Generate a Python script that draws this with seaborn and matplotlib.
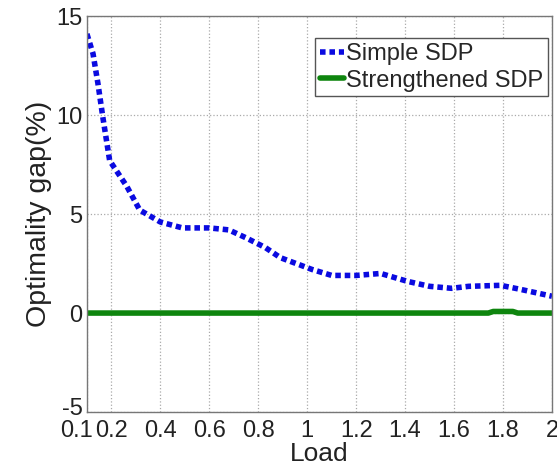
import numpy as np
import pandas as pd
import matplotlib
matplotlib.use('Agg')
import matplotlib.pyplot as plt
import matplotlib.transforms as mtransforms
import seaborn as sns

# values
load_simple = [0.10, 0.125, 0.145, 0.165, 0.193, 0.263, 0.316, 0.40, 0.49, 0.60, 0.68, 0.75, 0.83,
               0.89, 1.02, 1.10, 1.20, 1.30, 1.41, 1.50, 1.59, 1.66, 1.79, 1.87, 2.00]
gap_simple = [14.1, 13.1, 11.6, 9.9, 7.7, 6.4, 5.2, 4.6, 4.3, 4.3, 4.2, 3.8, 3.3,
              2.8, 2.2, 1.9, 1.9, 2.0, 1.6, 1.35, 1.25, 1.35, 1.4, 1.2, 0.85]
load_strong = [0.10, 0.50, 1.00, 1.50, 1.74, 1.76, 1.84, 1.86, 2.00]
gap_strong = [0.0, 0.0, 0.0, 0.0, 0.0, 0.08, 0.08, 0.0, 0.0]

xticks = [0.1, 0.2, 0.4, 0.6, 0.8, 1, 1.2, 1.4, 1.6, 1.8, 2]
xtick_labels = ['0.1', '0.2', '0.4', '0.6', '0.8', '1', '1.2', '1.4', '1.6', '1.8', '2']
yticks = [-5, 0, 5, 10, 15]

sns.set_style('white')
plt.rcParams['font.family'] = ['Liberation Sans', 'DejaVu Sans']
plt.rcParams['axes.unicode_minus'] = False

df_simple = pd.DataFrame({'Load': load_simple, 'gap': gap_simple})
df_strong = pd.DataFrame({'Load': load_strong, 'gap': gap_strong})

fig = plt.figure(figsize=(5.57, 4.72), dpi=100)
ax = fig.add_axes([0.156, 0.127, 0.835, 0.839])

sns.lineplot(data=df_simple, x='Load', y='gap', ax=ax, color='#0a0ae0', linewidth=4,
             label='Simple SDP', dashes=False)
ax.lines[-1].set_dashes([1.0, 0.7])
ax.lines[-1].set_dash_capstyle('butt')
sns.lineplot(data=df_strong, x='Load', y='gap', ax=ax, color='#0e850e', linewidth=4,
             label='Strengthened SDP')

ax.set_xlim(0.1, 2)
ax.set_ylim(-5, 15)
ax.set_xticks(xticks)
ax.set_xticklabels(xtick_labels)
ax.set_yticks(yticks)
ax.tick_params(direction='in', length=4, labelsize=17, colors='#222222')
ax.tick_params(axis='x', pad=6)
ax.tick_params(axis='y', pad=3)
ax.grid(True, linestyle=':', color='#aaaaaa', linewidth=0.9)
for s in ax.spines.values():
    s.set_color('#777777')
    s.set_linewidth(1.0)

# first x label sits a bit left, "-5" a bit up (like the reference)
shift = mtransforms.ScaledTranslation(-10 / 100, 0, fig.dpi_scale_trans)
first = ax.get_xticklabels()[0]
first.set_transform(first.get_transform() + shift)
up = mtransforms.ScaledTranslation(0, 6 / 100, fig.dpi_scale_trans)
low = ax.get_yticklabels()[0]
low.set_transform(low.get_transform() + up)

ax.set_xlabel('Load', fontsize=19, color='#222222', labelpad=0)
ax.set_ylabel('Optimality gap(%)', fontsize=20.5, color='#222222', labelpad=3)

leg = ax.legend(loc='upper right', fontsize=17, handlelength=1.0, handletextpad=0.1,
                borderpad=0.2, labelspacing=0.2, fancybox=False, framealpha=1,
                edgecolor='#555555', borderaxespad=0, bbox_to_anchor=(0.991, 0.944))
leg.get_frame().set_linewidth(1.0)

plt.savefig('out.png', dpi=100)
